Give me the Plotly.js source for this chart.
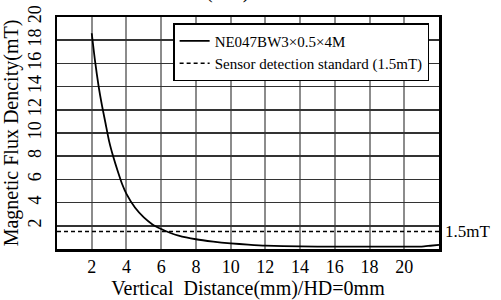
<!DOCTYPE html>
<html>
<head>
<meta charset="utf-8">
<script src="https://cdn.plot.ly/plotly-3.0.1.min.js"></script>
<style>html,body{margin:0;padding:0;background:#fff;}#chart{width:501px;height:300px;}</style>
</head>
<body>
<div id="chart"></div>
<script>
// Data
const distance = [2, 2.2, 2.4, 2.6, 2.8, 3.0, 3.25, 3.5, 3.75, 4.0, 4.5, 5.0, 5.5, 6.0, 6.5, 7.0, 8.0, 9.0, 10, 11, 12, 14, 16, 18, 20, 21, 21.5, 22];
const fluxDensity = [18.6, 16.1, 14.0, 12.3, 10.8, 9.3, 7.9, 6.7, 5.6, 4.75, 3.55, 2.72, 2.12, 1.72, 1.4, 1.15, 0.84, 0.64, 0.49, 0.38, 0.29, 0.22, 0.2, 0.2, 0.2, 0.21, 0.28, 0.35];
const standardX = [0, 22];
const standardY = [1.5, 1.5];
const xTicks = [2, 4, 6, 8, 10, 12, 14, 16, 18, 20];
const yTicks = [2, 4, 6, 8, 10, 12, 14, 16, 18, 20];
const seriesName = "NE047BW3×0.5×4M";
const standardName = "Sensor detection standard (1.5mT)";

const FONT = "Liberation Serif, Times New Roman, serif";

const traces = [
  {x: distance, y: fluxDensity, name: seriesName, mode: "lines", type: "scatter",
   line: {color: "#000", width: 1.8, shape: "spline", smoothing: 0.6}},
  {x: standardX, y: standardY, name: standardName, mode: "lines", type: "scatter",
   line: {color: "#000", width: 1.5, dash: "4px,3px"}}
];

const layout = {
  width: 501, height: 300,
  margin: {l: 57, r: 62, t: 17, b: 51},
  paper_bgcolor: "#fff", plot_bgcolor: "#fff",
  font: {family: FONT, color: "#000", size: 16},
  showlegend: true,
  legend: {x: 0.304, y: 0.974, xanchor: "left", yanchor: "top",
           bgcolor: "#fff", bordercolor: "#000", borderwidth: 1.5,
           font: {family: FONT, size: 15, color: "#000"}, itemwidth: 30},
  xaxis: {range: [0, 22], tickvals: xTicks, ticktext: xTicks.map(String),
          showgrid: true, gridcolor: "#8c8c8c", gridwidth: 2,
          showline: true, mirror: true, linecolor: "#000", linewidth: 2.5,
          zeroline: false, ticks: "", ticklabelstandoff: 0,
          tickfont: {family: FONT, size: 18, color: "#000"},
          title: {text: "Vertical\u00a0 Distance(mm)/HD=0mm", standoff: 2,
                  font: {family: FONT, size: 20, color: "#000"}}},
  yaxis: {range: [0, 20], tickvals: yTicks, ticktext: yTicks.map(String),
          showgrid: true, gridcolor: "#333", gridwidth: 1.5,
          showline: true, mirror: true, linecolor: "#000", linewidth: 2.5,
          zeroline: false, ticks: "", tickangle: -90, ticklabelstandoff: 6,
          tickfont: {family: FONT, size: 18, color: "#000"},
          title: {text: "Magnetic Flux Dencity(mT)", standoff: 2,
                  font: {family: FONT, size: 20, color: "#000"}}},
  annotations: [
    {text: "1.5mT", xref: "paper", yref: "y", x: 1, y: 1.5, xanchor: "left", yanchor: "middle",
     xshift: 4, showarrow: false, font: {family: FONT, size: 17, color: "#000"}},
    {text: "(\u00a0\u00a0\u00a0\u00a0\u00a0\u00a0)", xref: "paper", yref: "paper", x: 0.447, y: 1.052,
     xanchor: "center", yanchor: "bottom", showarrow: false,
     font: {family: FONT, size: 20, color: "#000"}}
  ]
};

Plotly.newPlot("chart", traces, layout, {staticPlot: true, displayModeBar: false});
</script>
</body>
</html>
